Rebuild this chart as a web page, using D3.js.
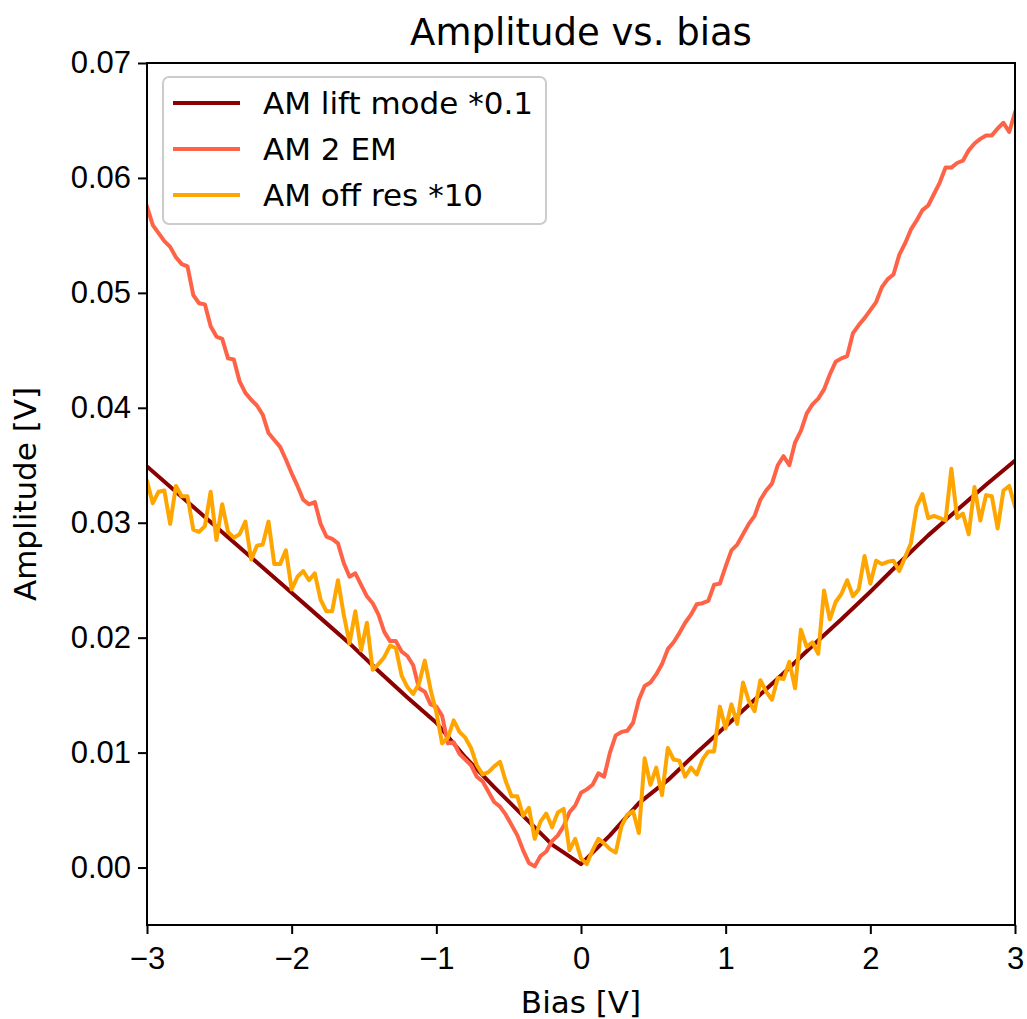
<!DOCTYPE html>
<html lang="en">
<head>
<meta charset="utf-8" />
<title>Amplitude vs. bias</title>
<script src="https://cdn.jsdelivr.net/npm/d3@7"></script>
<style>
  body { margin: 0; background: #fff; }
  svg { display: block; font-family: "DejaVu Sans", sans-serif; }
  .axis path, .axis line { stroke: #000; stroke-width: 2px; }
  .axis text { font-size: 31px; fill: #000; }
</style>
</head>
<body>
<div id="chart"></div>
<script>
// sampling grids (bias in V)
var biasFine = d3.range(151).map(function(i) { return -3 + i * 0.04; });
var biasLift = d3.range(31).map(function(i) { return -3 + i * 0.2; });

// AM lift mode *0.1
var liftMode = [0.0349, 0.0327, 0.0305, 0.0283, 0.0261, 0.0239, 0.0217, 0.0195, 0.0171, 0.0148,
  0.0126, 0.0096, 0.0070, 0.0045, 0.0020, 0.0003, 0.0028, 0.0056, 0.0076, 0.0100,
  0.0123, 0.0146, 0.0169, 0.0193, 0.0216, 0.0240, 0.0265, 0.0289, 0.0311, 0.0333, 0.0354];

// AM 2 EM
var am2em = [0.0575, 0.0559, 0.0552, 0.0545, 0.0540, 0.0531, 0.0525, 0.0523, 0.0498, 0.0491,
  0.0490, 0.0471, 0.0462, 0.0460, 0.0443, 0.0442, 0.0423, 0.0413, 0.0407, 0.0402,
  0.0394, 0.0378, 0.0372, 0.0366, 0.0355, 0.0343, 0.0332, 0.0320, 0.0316, 0.0318,
  0.0299, 0.0288, 0.0286, 0.0282, 0.0265, 0.0253, 0.0256, 0.0246,
  0.0236, 0.0230, 0.0220, 0.0205, 0.0197, 0.0197, 0.0188, 0.0184, 0.0176, 0.0156,
  0.0153, 0.0142, 0.0140, 0.0132, 0.0108, 0.0109, 0.0099, 0.0094, 0.0089, 0.0079,
  0.0075, 0.0066, 0.0057, 0.0053, 0.0046, 0.0037, 0.0028, 0.0015, 0.0004, 0.0001,
  0.0010, 0.0014, 0.0023, 0.0028, 0.0036, 0.0048, 0.0054, 0.0065, 0.0068,
  0.0072, 0.0082, 0.0079, 0.0100, 0.0115, 0.0118, 0.0119, 0.0126, 0.0146, 0.0158,
  0.0161, 0.0168, 0.0177, 0.0190, 0.0196, 0.0204, 0.0213, 0.0220, 0.0229, 0.0230,
  0.0232, 0.0246, 0.0247, 0.0262, 0.0276, 0.0281, 0.0290, 0.0299, 0.0306, 0.0320,
  0.0328, 0.0334, 0.0350, 0.0358, 0.0350, 0.0370, 0.0380, 0.0395,
  0.0403, 0.0408, 0.0416, 0.0429, 0.0440, 0.0443, 0.0445, 0.0465, 0.0472, 0.0478,
  0.0485, 0.0492, 0.0505, 0.0512, 0.0516, 0.0533, 0.0543, 0.0555, 0.0563, 0.0572,
  0.0576, 0.0586, 0.0596, 0.0609, 0.0609, 0.0613, 0.0615, 0.0624, 0.0630, 0.0634,
  0.0637, 0.0637, 0.0643, 0.0648, 0.0640, 0.0657];

// AM off res *10
var offRes = [0.0336, 0.0317, 0.0327, 0.0328, 0.0299, 0.0332, 0.0323, 0.0323, 0.0294, 0.0292,
  0.0297, 0.0327, 0.0285, 0.0316, 0.0292, 0.0287, 0.0290, 0.0301, 0.0268, 0.0280,
  0.0281, 0.0301, 0.0264, 0.0264, 0.0276, 0.0242, 0.0253, 0.0258, 0.0250, 0.0256,
  0.0233, 0.0223, 0.0223, 0.0250, 0.0220, 0.0195, 0.0223, 0.0189,
  0.0213, 0.0172, 0.0177, 0.0183, 0.0193, 0.0191, 0.0167, 0.0157, 0.0151, 0.0160,
  0.0180, 0.0155, 0.0135, 0.0108, 0.0113, 0.0128, 0.0118, 0.0113, 0.0104, 0.0089,
  0.0081, 0.0083, 0.0088, 0.0092, 0.0075, 0.0062, 0.0062, 0.0045, 0.0052, 0.0025,
  0.0040, 0.0047, 0.0035, 0.0048, 0.0051, 0.0015, 0.0025, 0.0008, 0.0003,
  0.0015, 0.0025, 0.0021, 0.0016, 0.0013, 0.0036, 0.0046, 0.0049, 0.0030, 0.0095,
  0.0072, 0.0087, 0.0063, 0.0104, 0.0094, 0.0093, 0.0079, 0.0087, 0.0081, 0.0094,
  0.0101, 0.0101, 0.0140, 0.0121, 0.0142, 0.0125, 0.0161, 0.0145, 0.0136, 0.0163,
  0.0153, 0.0146, 0.0165, 0.0164, 0.0179, 0.0156, 0.0207, 0.0192,
  0.0196, 0.0186, 0.0241, 0.0216, 0.0231, 0.0238, 0.0250, 0.0236, 0.0242, 0.0271,
  0.0247, 0.0267, 0.0264, 0.0266, 0.0267, 0.0258, 0.0270, 0.0282, 0.0314, 0.0325,
  0.0304, 0.0306, 0.0304, 0.0302, 0.0347, 0.0304, 0.0308, 0.0290, 0.0331, 0.0302,
  0.0324, 0.0323, 0.0295, 0.0328, 0.0332, 0.0314];

var xTicks = [-3, -2, -1, 0, 1, 2, 3];
var yTicks = [0, 0.01, 0.02, 0.03, 0.04, 0.05, 0.06, 0.07];

var series = [
  { name: "AM lift mode *0.1", color: "#8b0000", x: biasLift, y: liftMode },
  { name: "AM 2 EM", color: "#ff6347", x: biasFine, y: am2em },
  { name: "AM off res *10", color: "#ffa500", x: biasFine, y: offRes }
];

var width = 1027, height = 1019;
var margin = { top: 63, right: 12, bottom: 94, left: 147 };
var w = width - margin.left - margin.right;
var h = height - margin.top - margin.bottom;

var svg = d3.select("#chart").append("svg")
    .attr("width", width)
    .attr("height", height);

var g = svg.append("g")
    .attr("transform", "translate(" + margin.left + "," + margin.top + ")");

var x = d3.scaleLinear().domain([-3, 3]).range([0, w]);
var y = d3.scaleLinear().domain([-0.005, 0.07]).range([h, 0]);

g.append("clipPath").attr("id", "clip")
  .append("rect").attr("width", w).attr("height", h);

var line = d3.line()
    .x(function(d) { return x(d[0]); })
    .y(function(d) { return y(d[1]); });

g.append("g").attr("clip-path", "url(#clip)")
  .selectAll("path")
  .data(series)
  .enter().append("path")
    .attr("d", function(s) { return line(d3.zip(s.x, s.y)); })
    .attr("fill", "none")
    .attr("stroke", function(s) { return s.color; })
    .attr("stroke-width", 4)
    .attr("stroke-linejoin", "round")
    .attr("stroke-linecap", "square");

// axes
var xAxis = d3.axisBottom(x).tickValues(xTicks).tickSize(9).tickPadding(13)
    .tickFormat(function(d) { return d < 0 ? "\u2212" + Math.abs(d) : d; });
var yAxis = d3.axisLeft(y).tickValues(yTicks).tickSize(9).tickPadding(7)
    .tickFormat(d3.format(".2f"));

g.append("g").attr("class", "axis")
    .attr("transform", "translate(0," + h + ")")
    .call(xAxis)
    .call(function(a) { a.select(".domain").remove(); });
g.append("g").attr("class", "axis")
    .call(yAxis)
    .call(function(a) { a.select(".domain").remove(); });

// frame
g.append("rect")
    .attr("width", w).attr("height", h)
    .attr("fill", "none")
    .attr("stroke", "#000")
    .attr("stroke-width", 2);

// labels
svg.append("text")
    .attr("x", margin.left + w / 2).attr("y", 45)
    .attr("text-anchor", "middle")
    .style("font-size", "37px")
    .text("Amplitude vs. bias");

svg.append("text")
    .attr("x", margin.left + w / 2).attr("y", 1013)
    .attr("text-anchor", "middle")
    .style("font-size", "31px")
    .text("Bias [V]");

svg.append("text")
    .attr("transform", "translate(36," + (margin.top + h / 2) + ") rotate(-90)")
    .attr("text-anchor", "middle")
    .style("font-size", "31px")
    .text("Amplitude [V]");

// legend
var legend = g.append("g").attr("transform", "translate(16,14)");
legend.append("rect")
    .attr("width", 383).attr("height", 147)
    .attr("rx", 6).attr("ry", 6)
    .attr("fill", "#fff").attr("fill-opacity", 0.8)
    .attr("stroke", "#cccccc").attr("stroke-width", 2);

var rows = legend.selectAll(".row")
    .data(series)
    .enter().append("g")
    .attr("transform", function(d, i) { return "translate(0," + (26 + i * 46) + ")"; });

rows.append("line")
    .attr("x1", 10).attr("x2", 77)
    .attr("stroke", function(d) { return d.color; })
    .attr("stroke-width", 4);

rows.append("text")
    .attr("x", 100).attr("dy", "0.35em")
    .style("font-size", "31px")
    .text(function(d) { return d.name; });
</script>
</body>
</html>
